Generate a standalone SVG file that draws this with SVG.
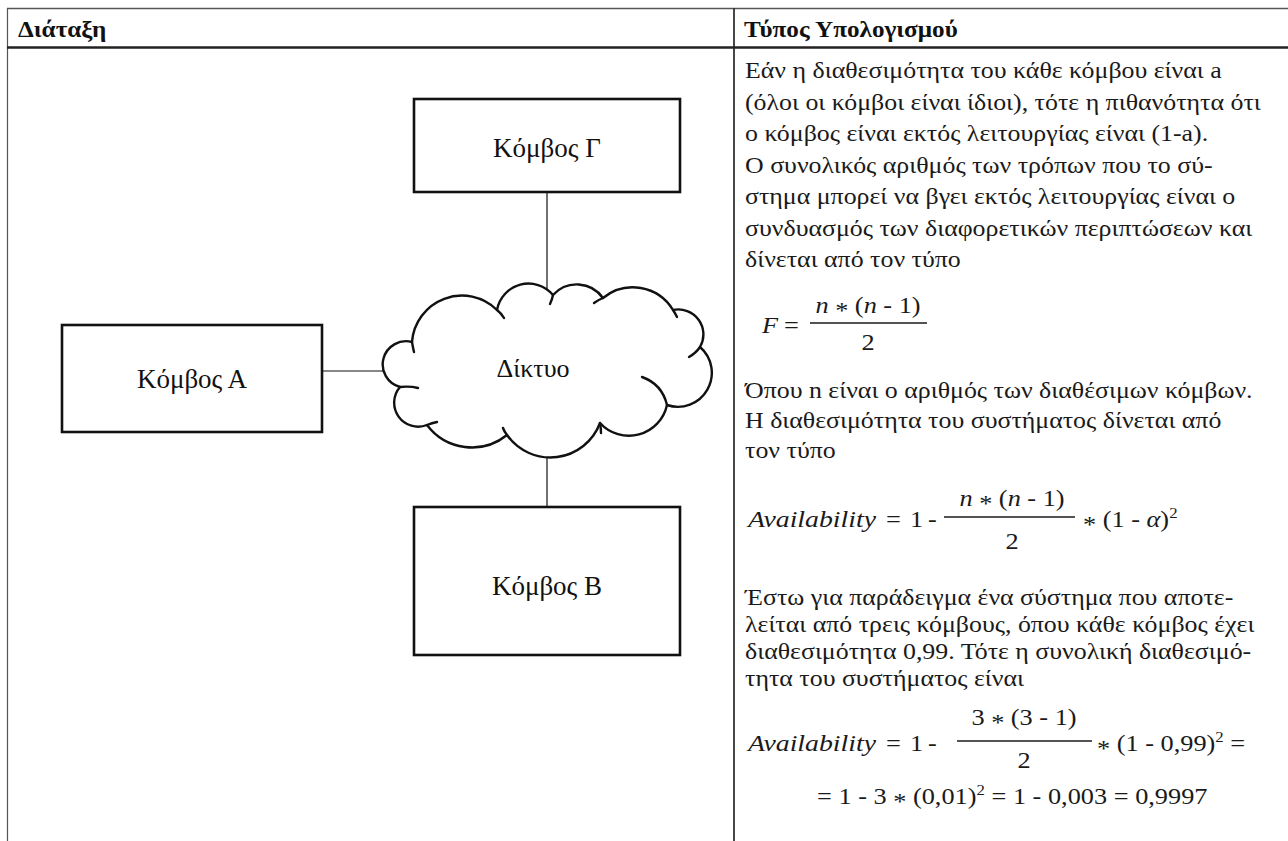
<svg xmlns="http://www.w3.org/2000/svg" width="1288" height="841" viewBox="0 0 1288 841">
  <style>
    text { font-family: "Liberation Serif", "Times New Roman", serif; fill: #1a1a1a; }
    .hdr { font-size: 22.5px; font-weight: bold; fill: #111; }
    .body { font-size: 22.5px; }
    .math { font-size: 23.5px; }
    .mid { text-anchor: middle; }
    .it { font-style: italic; }
    .lbl { font-size: 27px; fill: #111; text-anchor: middle; }
    .box { fill: #fff; stroke: #111; stroke-width: 2.6; }
    .wire { stroke: #111; stroke-width: 1.2; fill: none; }
    .bar { stroke: #1a1a1a; stroke-width: 1.6; }
    .cloud { fill: #fff; stroke: #111; stroke-width: 2.4; stroke-linejoin: round; }
    .crease { fill: none; stroke: #111; stroke-width: 2.4; stroke-linecap: round; }
  </style>

  <rect width="1288" height="841" fill="#fff"/>

  <!-- table grid and column headings -->
  <g id="table">
    <line x1="7" y1="8.5" x2="1288" y2="8.5" stroke="#555" stroke-width="1.3"/>
    <line x1="7.5" y1="8" x2="7.5" y2="841" stroke="#555" stroke-width="1.2"/>
    <line x1="734" y1="8" x2="734" y2="841" stroke="#333" stroke-width="1.8"/>
    <line x1="7" y1="47.5" x2="1288" y2="47.5" stroke="#222" stroke-width="2.4"/>
    <text class="hdr" transform="translate(18,37) scale(1.12,1)">Διάταξη</text>
    <text class="hdr" transform="translate(744,37) scale(1.12,1)">Τύπος Υπολογισμού</text>
  </g>

  <!-- connectors -->
  <g id="connectors">
    <line class="wire" x1="547" y1="192" x2="547" y2="295"/>
    <line class="wire" x1="322" y1="371" x2="384" y2="371"/>
    <line class="wire" x1="547" y1="455" x2="547" y2="507"/>
  </g>

  <g id="node-g">
    <rect class="box" x="414" y="99" width="266" height="93"/>
    <text class="lbl" x="547" y="157">Κόμβος Γ</text>
  </g>

  <g id="node-a">
    <rect class="box" x="62" y="325" width="260" height="107"/>
    <text class="lbl" x="192" y="388">Κόμβος Α</text>
  </g>

  <g id="node-b">
    <rect class="box" x="414" y="507" width="266" height="148"/>
    <text class="lbl" x="547" y="595">Κόμβος Β</text>
  </g>

  <g id="network">
    <path class="cloud" d="M412,342 A50,50 0 0 1 497,310 A32,32 0 0 1 553,295 A32,32 0 0 1 603,298 A47,47 0 0 1 673,310 A25,25 0 0 1 700,347 A34,34 0 0 1 667,405 A39,39 0 0 1 600,423 A53,53 0 0 1 507,435 A56,56 0 0 1 427,425 A24,24 0 0 1 400,387 A23,23 0 0 1 412,342 Z"/>
    <path class="crease" d="M412,342 Q413,348 414,352"/>
    <path class="crease" d="M497,310 Q501,313 504,318"/>
    <path class="crease" d="M553,295 Q552,300 550,304"/>
    <path class="crease" d="M603,298 Q598,300 594,303"/>
    <path class="crease" d="M673,310 Q675,313 677,317"/>
    <path class="crease" d="M700,347 Q696,353 689,357"/>
    <path class="crease" d="M642,377 Q662,384 667,405"/>
    <path class="crease" d="M600,423 Q601,428 601,433"/>
    <path class="crease" d="M507,435 Q504,431 503,428"/>
    <path class="crease" d="M427,425 Q432,423 437,422"/>
    <path class="crease" d="M400,387 Q410,386 418,388"/>
    <text class="lbl" x="533" y="377" style="font-size:26px">Δίκτυο</text>
  </g>

  <!-- calculation column -->
  <g id="calc">
    <text class="body" transform="translate(745,78) scale(1.15,1)">Εάν η διαθεσιμότητα του κάθε κόμβου είναι a</text>
    <text class="body" transform="translate(745,109.5) scale(1.15,1)">(όλοι οι κόμβοι είναι ίδιοι), τότε η πιθανότητα ότι</text>
    <text class="body" transform="translate(745,141) scale(1.15,1)">ο κόμβος είναι εκτός λειτουργίας είναι (1-a).</text>
    <text class="body" transform="translate(745,172.5) scale(1.15,1)">Ο συνολικός αριθμός των τρόπων που το σύ-</text>
    <text class="body" transform="translate(745,204) scale(1.15,1)">στημα μπορεί να βγει εκτός λειτουργίας είναι ο</text>
    <text class="body" transform="translate(745,235.5) scale(1.15,1)">συνδυασμός των διαφορετικών περιπτώσεων και</text>
    <text class="body" transform="translate(745,267) scale(1.15,1)">δίνεται από τον τύπο</text>

    <!-- F = n*(n-1)/2 -->
    <text class="math it" transform="translate(762,333) scale(1.12,1)">F</text>
    <text class="math" transform="translate(784,333) scale(1.12,1)">=</text>
    <line class="bar" x1="810" y1="323" x2="927" y2="323"/>
    <text class="math mid" transform="translate(868,313) scale(1.12,1)"><tspan class="it">n</tspan> <tspan dy="5">*</tspan><tspan dy="-5"> (</tspan><tspan class="it">n</tspan> - 1)</text>
    <text class="math mid" transform="translate(868,350) scale(1.12,1)">2</text>

    <text class="body" transform="translate(745,398) scale(1.15,1)">Όπου n είναι ο αριθμός των διαθέσιμων κόμβων.</text>
    <text class="body" transform="translate(745,428) scale(1.15,1)">Η διαθεσιμότητα του συστήματος δίνεται από</text>
    <text class="body" transform="translate(745,458) scale(1.15,1)">τον τύπο</text>

    <!-- Availability = 1 - n*(n-1)/2 * (1-α)^2 -->
    <text class="math it" x="748" y="527" textLength="128" lengthAdjust="spacingAndGlyphs">Availability</text>
    <text class="math" transform="translate(886,527) scale(1.12,1)">=</text>
    <text class="math" transform="translate(910,527) scale(1.12,1)">1</text>
    <text class="math" transform="translate(928,527) scale(1.12,1)">-</text>
    <line class="bar" x1="944" y1="517" x2="1075" y2="517"/>
    <text class="math mid" transform="translate(1012,506) scale(1.12,1)"><tspan class="it">n</tspan> <tspan dy="5">*</tspan><tspan dy="-5"> (</tspan><tspan class="it">n</tspan> - 1)</text>
    <text class="math mid" transform="translate(1012,549) scale(1.12,1)">2</text>
    <text class="math" transform="translate(1083,527) scale(1.12,1)"><tspan dy="5">*</tspan><tspan dy="-5"> (1 - </tspan><tspan class="it">α</tspan>)<tspan font-size="15" dy="-9">2</tspan></text>

    <text class="body" transform="translate(745,605) scale(1.15,1)">Έστω για παράδειγμα ένα σύστημα που αποτε-</text>
    <text class="body" transform="translate(745,632) scale(1.15,1)">λείται από τρεις κόμβους, όπου κάθε κόμβος έχει</text>
    <text class="body" transform="translate(745,659) scale(1.15,1)">διαθεσιμότητα 0,99. Τότε η συνολική διαθεσιμό-</text>
    <text class="body" transform="translate(745,686) scale(1.15,1)">τητα του συστήματος είναι</text>

    <!-- worked example -->
    <text class="math it" x="748" y="751" textLength="128" lengthAdjust="spacingAndGlyphs">Availability</text>
    <text class="math" transform="translate(886,751) scale(1.12,1)">=</text>
    <text class="math" transform="translate(910,751) scale(1.12,1)">1</text>
    <text class="math" transform="translate(928,751) scale(1.12,1)">-</text>
    <line class="bar" x1="957" y1="741" x2="1092" y2="741"/>
    <text class="math mid" transform="translate(1024,725) scale(1.12,1)">3 <tspan dy="5">*</tspan><tspan dy="-5"> (3 - 1)</tspan></text>
    <text class="math mid" transform="translate(1024,768) scale(1.12,1)">2</text>
    <text class="math" transform="translate(1097,751) scale(1.12,1)"><tspan dy="5">*</tspan><tspan dy="-5"> (1 - 0,99)</tspan><tspan font-size="15" dy="-9">2</tspan><tspan dy="9"> =</tspan></text>
    <text class="math" transform="translate(817,804) scale(1.12,1)">= 1 - 3 <tspan dy="5">*</tspan><tspan dy="-5"> (0,01)</tspan><tspan font-size="15" dy="-9">2</tspan><tspan dy="9"> = 1 - 0,003 = 0,9997</tspan></text>
  </g>
</svg>
